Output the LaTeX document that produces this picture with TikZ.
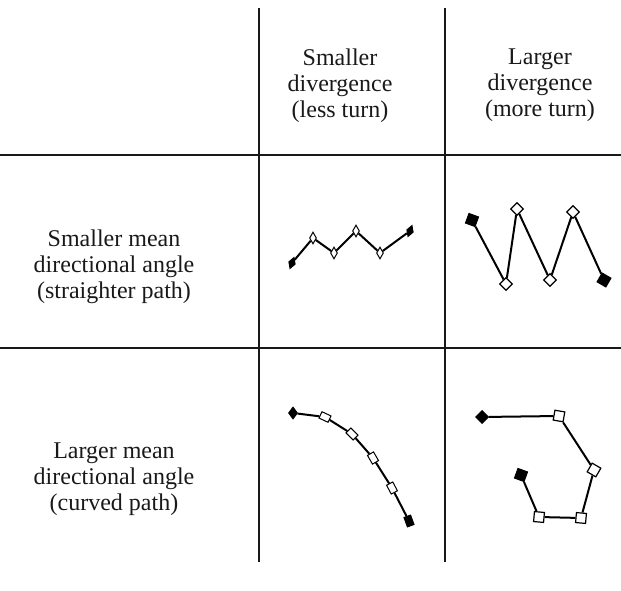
\documentclass[tikz,border=0pt]{standalone}
\usepackage{fontspec}
\setmainfont{Liberation Serif}
\usetikzlibrary{shapes.geometric}
\begin{document}
\begin{tikzpicture}[x=1pt,y=-1pt,
  gridline/.style={line width=2.2pt, black!90},
  lbl/.style={align=center, font=\fontsize{24}{26}\selectfont, inner sep=0pt, text=black!90},
  trail/.style={line width=2pt},
  sd/.style={diamond, draw, line width=1pt, fill=white, minimum width=7pt, minimum height=12pt, inner sep=0pt},
  sdf/.style={sd, fill=black},
  bd/.style={diamond, draw, line width=1.2pt, fill=white, minimum size=13pt, inner sep=0pt},
  sq/.style={rectangle, draw, line width=1.2pt, fill=white, minimum size=9pt, inner sep=0pt},
  sqf/.style={sq, fill=black},
  rc/.style={rectangle, draw, line width=1pt, fill=white, minimum width=10pt, minimum height=7pt, inner sep=0pt},
  rcf/.style={rc, fill=black},
]
\useasboundingbox (0,0) rectangle (621,591);
% grid
\coordinate (v1t) at (259,8);  \coordinate (v1b) at (259,562);
\coordinate (v2t) at (445,8);  \coordinate (v2b) at (445,562);
\coordinate (h1l) at (0,155);  \coordinate (h1r) at (621,155);
\coordinate (h2l) at (0,348);  \coordinate (h2r) at (621,348);
\draw[gridline] (v1t) -- (v1b);
\draw[gridline] (v2t) -- (v2b);
\draw[gridline] (h1l) -- (h1r);
\draw[gridline] (h2l) -- (h2r);
% labels
\node[lbl] (hd1) at (340,85.5) {Smaller\\divergence\\(less turn)};
\node[lbl] (hd2) at (540,85.5) {Larger\\divergence\\(more turn)};
\node[lbl] (rw1) at (114,266.5) {Smaller mean\\directional angle\\(straighter path)};
\node[lbl] (rw2) at (114,479.5) {Larger mean\\directional angle\\(curved path)};
% panel A
\node[sdf, rotate=-20] (a1) at (292,263) {};
\node[sd] (a2) at (313,238) {};
\node[sd] (a3) at (334,253) {};
\node[sd] (a4) at (356,231) {};
\node[sd] (a5) at (380,253) {};
\node[sdf, rotate=-20] (a6) at (410,231) {};
\draw[trail] (a1) -- (a2) -- (a3) -- (a4) -- (a5) -- (a6);
% panel B
\node[sqf, minimum size=10pt, rotate=-20] (b1) at (472,220) {};
\node[bd] (b2) at (506,284) {};
\node[bd] (b3) at (517,209) {};
\node[bd] (b4) at (550,280) {};
\node[bd] (b5) at (573,212) {};
\node[sqf, minimum size=10pt, rotate=-30] (b6) at (604,280) {};
\draw[trail] (b1) -- (b2) -- (b3) -- (b4) -- (b5) -- (b6);
% panel C
\node[diamond, fill=black, draw, line width=1pt, minimum width=9pt, minimum height=12pt, inner sep=0pt] (c1) at (293,413) {};
\node[rc, rotate=-25] (c2) at (325,417) {};
\node[rc, rotate=-45] (c3) at (352,434) {};
\node[rc, rotate=-60] (c4) at (373,458) {};
\node[rc, rotate=-62] (c5) at (392,488) {};
\node[rcf, rotate=-70] (c6) at (409,521) {};
\draw[trail] (c1) -- (c2) -- (c3) -- (c4) -- (c5) -- (c6);
% panel D
\node[diamond, fill=black, draw, line width=1pt, minimum size=13pt, inner sep=0pt] (d1) at (482,417) {};
\node[sq, minimum size=10pt, rotate=-10] (d2) at (559,416) {};
\node[sq, minimum size=10pt, rotate=-30] (d3) at (594,470) {};
\node[sq, minimum size=10pt, rotate=-5] (d4) at (581,518) {};
\node[sq, minimum size=10pt, rotate=-5] (d5) at (539,517) {};
\node[sqf, minimum size=10pt, rotate=-20] (d6) at (521,475) {};
\draw[trail] (d1) -- (d2) -- (d3) -- (d4) -- (d5) -- (d6);
\end{tikzpicture}
\end{document}
